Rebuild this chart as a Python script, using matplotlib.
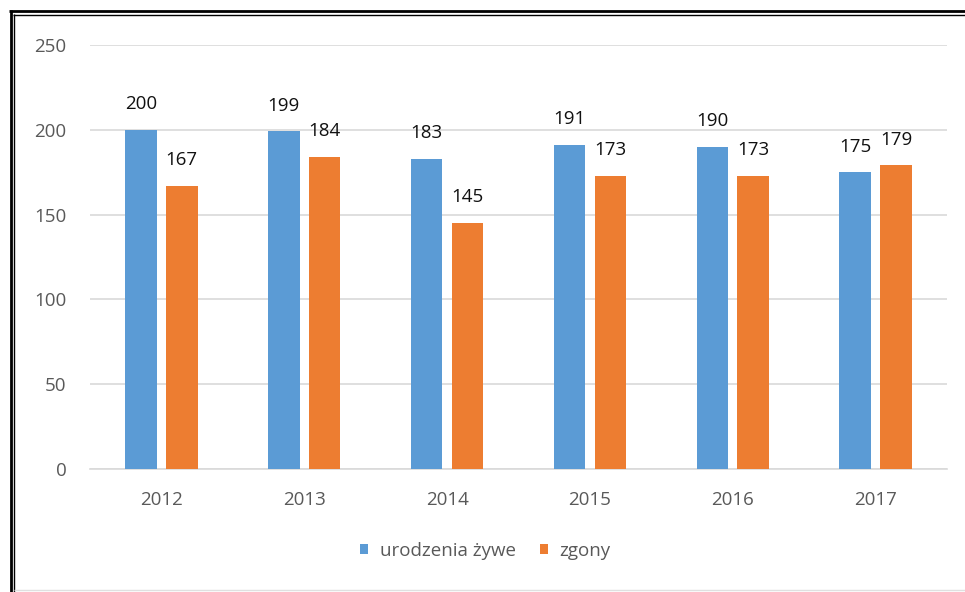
import matplotlib
matplotlib.use("Agg")
import matplotlib.pyplot as plt
from matplotlib.lines import Line2D
import numpy as np

years = ["2012", "2013", "2014", "2015", "2016", "2017"]
births = [200, 199, 183, 191, 190, 175]
deaths = [167, 184, 145, 173, 173, 179]
series_names = ["urodzenia żywe", "zgony"]
colors = ["#5B9BD5", "#ED7D31"]
yticks = [0, 50, 100, 150, 200, 250]

plt.rcParams['font.family'] = ['Open Sans', 'DejaVu Sans']

fig = plt.figure(figsize=(9.65, 5.92), dpi=100)
W, H = 965, 592
ax = fig.add_axes([90 / W, 1 - 469 / H, (947 - 90) / W, (469 - 45) / H])

x = np.arange(len(years))
bw = 0.22
off = 0.143
b1 = ax.bar(x - off, births, bw, color=colors[0], label=series_names[0], zorder=3)
b2 = ax.bar(x + off, deaths, bw, color=colors[1], label=series_names[1], zorder=3)

for bars in (b1, b2):
    for r in bars:
        ax.annotate(f"{int(r.get_height())}", (r.get_x() + r.get_width() / 2, r.get_height()),
                    xytext=(0, 12), textcoords="offset points", ha="center", va="bottom",
                    fontsize=13.5, color="#111111")

ax.set_xlim(-0.5, len(years) - 0.5)
ax.set_ylim(0, 250)
ax.set_yticks(yticks)
ax.set_xticks(x)
ax.set_xticklabels(years)
ax.yaxis.grid(True, color="#d9d9d9", linewidth=1.2, zorder=0)
ax.set_axisbelow(True)
for s in ["top", "right", "left"]:
    ax.spines[s].set_visible(False)
ax.spines["bottom"].set_color("#d9d9d9")
ax.spines["bottom"].set_linewidth(1.2)
ax.tick_params(axis="both", length=0, labelsize=13.5, labelcolor="#595959")
ax.tick_params(axis="y", pad=17)
ax.tick_params(axis="x", pad=16)
for lbl in ax.get_yticklabels():
    lbl.set_horizontalalignment("right")

leg = fig.legend(handles=[b1, b2], labels=series_names, loc="center",
                 bbox_to_anchor=(0.503, 1 - 551 / H), ncol=2, frameon=False,
                 fontsize=13.5, handlelength=0.45, handleheight=0.45, columnspacing=1.3,
                 handletextpad=0.6)
for t in leg.get_texts():
    t.set_color("#595959")

def fl(x0, y0, x1, y1, lw, c="black"):
    fig.add_artist(Line2D([x0 / W, x1 / W], [1 - y0 / H, 1 - y1 / H], color=c, linewidth=lw,
                          transform=fig.transFigure, solid_capstyle="butt"))

fl(9, 11, W, 11, 2.0)
fl(13, 14.5, W, 14.5, 1.0)
fl(10.5, 10, 10.5, H, 2.0)
fl(14, 14, 14, H, 1.0)
fl(14, 590, W, 590, 1.0, "#e0e0e0")

fig.savefig("out.png", dpi=100)
